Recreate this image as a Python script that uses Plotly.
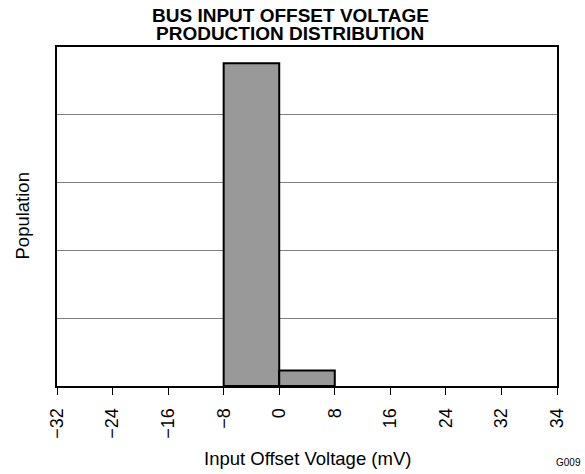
import plotly.graph_objects as go

# histogram bins (mV) and relative population
bin_centers = [-4, 4]
bin_width = 8
population = [4.76, 0.23]

tick_vals = [-32, -24, -16, -8, 0, 8, 16, 24, 32, 40]
tick_text = ['\u221232', '\u221224', '\u221216', '\u22128', '0', '8', '16', '24', '32', '34']

title_lines = ['BUS INPUT OFFSET VOLTAGE', 'PRODUCTION DISTRIBUTION']
x_title = 'Input Offset Voltage (mV)'
y_title = 'Population'

font_family = 'Liberation Sans, Arial, sans-serif'

fig = go.Figure()
fig.add_trace(go.Bar(x=bin_centers, y=population, width=bin_width,
                     marker=dict(color='#999999', line=dict(color='black', width=2)),
                     showlegend=False, hoverinfo='skip'))

fig.update_layout(
    width=585, height=474,
    margin=dict(l=57, r=28, t=47, b=88),
    paper_bgcolor='white', plot_bgcolor='white',
    font=dict(family=font_family, size=18, color='black'),
    xaxis=dict(range=[-32, 40], tickvals=tick_vals, ticktext=tick_text,
               tickangle=-90, ticks='outside', ticklen=7, tickcolor='black',
               tickfont=dict(size=18), ticklabelstandoff=6,
               showline=True, linecolor='black', linewidth=2, mirror=True,
               showgrid=False, zeroline=False),
    yaxis=dict(range=[0, 5], dtick=1, showticklabels=False, ticks='',
               showline=True, linecolor='black', linewidth=2, mirror=True,
               showgrid=True, gridcolor='#808080', gridwidth=1, zeroline=False),
)

# two title lines, tighter line spacing than a <br> title
for line, y_pos in zip(title_lines, [1.094, 1.040]):
    fig.add_annotation(text='<b>' + line + '</b>', xref='paper', yref='paper',
                       x=0.466, y=y_pos, xanchor='center', yanchor='middle',
                       showarrow=False, font=dict(size=19))

fig.add_annotation(text=x_title, xref='paper', yref='paper', x=0.5, y=-0.215,
                   xanchor='center', yanchor='middle', showarrow=False,
                   font=dict(size=18.5))
fig.add_annotation(text=y_title, xref='paper', yref='paper', x=-0.07, y=0.5,
                   xanchor='center', yanchor='middle', textangle=-90,
                   showarrow=False, font=dict(size=18.5))
fig.add_annotation(text='G009', xref='paper', yref='paper', x=1.052, y=-0.227,
                   xanchor='right', yanchor='middle', showarrow=False,
                   font=dict(size=10))

# drop the default 8px body margin so the figure fills the window
fig.write_html('out.html', config={'displayModeBar': False},
               post_script="document.body.style.margin='0';")
